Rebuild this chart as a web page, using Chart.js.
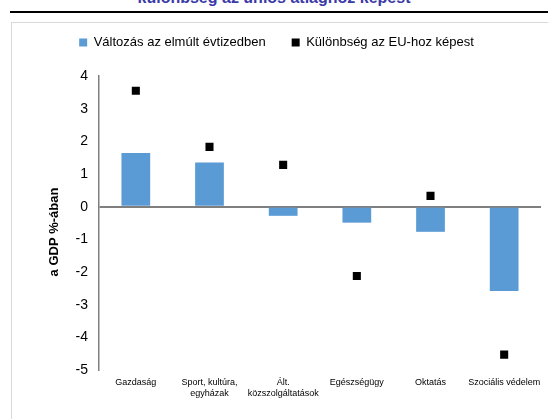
<!DOCTYPE html>
<html>
<head>
<meta charset="utf-8">
<script src="https://cdn.jsdelivr.net/npm/chart.js@4/dist/chart.umd.min.js"></script>
<style>
body { margin:0; background:#fff; width:548px; height:419px; overflow:hidden; position:relative; font-family:"Liberation Sans", Arial, sans-serif; }
#title { position:absolute; left:0; width:548px; top:-10px; line-height:16px; text-align:center; font-weight:bold; font-size:16px; color:#3a3aa8; white-space:nowrap; }
#rule { position:absolute; left:10px; top:11px; width:540px; height:2px; background:#000; }
#box { position:absolute; left:11px; top:22px; width:560px; height:410px; border:1px solid #d9d9d9; }
#wrap { position:absolute; left:0; top:0; width:560px; height:400px; }
</style>
</head>
<body>
<div id="title">különbség az uniós átlaghoz képest</div>
<div id="rule"></div>
<div id="box"><div id="wrap"><canvas id="chart"></canvas></div></div>
<script>
// adatok
var categories = ["Gazdaság", ["Sport, kultúra,", "egyházak"], ["Ált.", "közszolgáltatások"], "Egészségügy", "Oktatás", "Szociális védelem"];
var changeDecade = [1.64, 1.35, -0.28, -0.49, -0.77, -2.58];
var diffEU = [3.55, 1.83, 1.28, -2.12, 0.33, -4.53];
var yTicks = [4, 3, 2, 1, 0, -1, -2, -3, -4, -5];

// extra hely a jelmagyarazat alatt
var legendMargin = {
	id: 'legendMargin',
	beforeInit: function(chart) {
		var origFit = chart.legend.fit;
		chart.legend.fit = function() {
			origFit.bind(chart.legend)();
			this.height += 17;
		};
	}
};

var ctx = document.getElementById("chart").getContext("2d");
var myChart = new Chart(ctx, {
	type: 'bar',
	data: {
		labels: categories,
		datasets: [
			{
				label: 'Változás az elmúlt évtizedben',
				data: changeDecade,
				backgroundColor: '#5b9bd5',
				borderWidth: 0,
				barPercentage: 0.39,
				categoryPercentage: 1
			},
			{
				type: 'line',
				label: 'Különbség az EU-hoz képest',
				data: diffEU,
				showLine: false,
				pointStyle: 'rect',
				pointRadius: 5.7,
				pointHoverRadius: 5.7,
				backgroundColor: '#000',
				borderColor: '#000',
				borderWidth: 0
			}
		]
	},
	plugins: [legendMargin],
	options: {
		responsive: true,
		maintainAspectRatio: false,
		animation: false,
		layout: { padding: { top: -13, right: 31, left: 0, bottom: 0 } },
		plugins: {
			legend: {
				position: 'top',
				labels: {
					boxWidth: 8,
					boxHeight: 8,
					padding: 26,
					color: '#000',
					font: { family: '"Liberation Sans", Arial, sans-serif', size: 13 }
				}
			},
			tooltip: { enabled: false }
		},
		scales: {
			x: {
				border: { display: false },
				grid: { display: false, drawTicks: false },
				ticks: {
					color: '#000',
					padding: 7,
					maxRotation: 0,
					autoSkip: false,
					font: { family: '"Liberation Sans", Arial, sans-serif', size: 9 }
				},
				afterFit: function(scale) { scale.height = 53; }
			},
			y: {
				min: -5,
				max: 4,
				border: { display: true, color: '#7f7f7f', width: 1.5 },
				grid: {
					drawTicks: false,
					lineWidth: 2,
					color: function(c) { return c.tick && c.tick.value === 0 ? '#7f7f7f' : 'rgba(0,0,0,0)'; }
				},
				afterBuildTicks: function(scale) {
					scale.ticks = yTicks.map(function(v) { return { value: v }; });
				},
				ticks: {
					color: '#000',
					padding: 11,
					font: { family: '"Liberation Sans", Arial, sans-serif', size: 14 }
				},
				title: {
					display: true,
					text: 'a GDP %-ában     ',
					color: '#000',
					padding: { top: 35, bottom: 0 },
					font: { family: '"Liberation Sans", Arial, sans-serif', size: 13, weight: 'bold' }
				},
				afterFit: function(scale) { scale.width = 87; }
			}
		}
	}
});
</script>
</body>
</html>
